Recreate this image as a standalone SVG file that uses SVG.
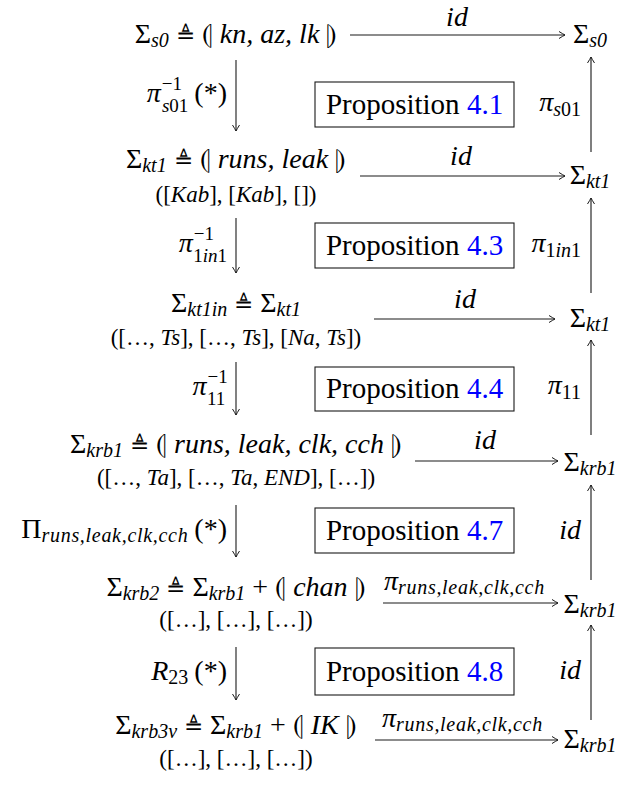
<svg xmlns="http://www.w3.org/2000/svg" width="618" height="785" viewBox="0 0 618 785">
<style>
.f{font-family:"Liberation Serif","DejaVu Serif",serif;fill:#000}
.m{font-size:28px}
.i{font-style:italic}
.sb{font-size:20px}
.ss{font-size:19px}
.ls{letter-spacing:0.7px}
.tri{font-size:23px}
.tp{font-size:23px}
.pr{font-size:29px}
.bl{fill:#0000ff}
.c{text-anchor:middle}
.e{text-anchor:end}
.ln{stroke:#1a1a1a;stroke-width:1.1;fill:none}
.up{stroke:#555;stroke-width:1.5;fill:none}
.bx{fill:#fff;stroke:#1a1a1a;stroke-width:1.1}
</style>
<defs>
<marker id="ah" viewBox="-8 -5 10 10" refX="0" refY="0" markerWidth="10" markerHeight="10" orient="auto" markerUnits="userSpaceOnUse">
<path d="M-6,-3.5 Q-2,-1 0,0 Q-2,1 -6,3.5" fill="none" stroke="#1a1a1a" stroke-width="1"/>
</marker>
</defs>

<g id="connectors">
<line class="ln" x1="350" y1="35" x2="565" y2="35" marker-end="url(#ah)"/>
<line class="ln" x1="360" y1="176" x2="565" y2="176" marker-end="url(#ah)"/>
<line class="ln" x1="374" y1="319" x2="555" y2="319" marker-end="url(#ah)"/>
<line class="ln" x1="415" y1="461" x2="558" y2="461" marker-end="url(#ah)"/>
<line class="ln" x1="383" y1="603" x2="558" y2="603" marker-end="url(#ah)"/>
<line class="ln" x1="375" y1="740" x2="558" y2="740" marker-end="url(#ah)"/>
<line class="ln" x1="236" y1="60" x2="236" y2="131" marker-end="url(#ah)"/>
<line class="ln" x1="236" y1="218" x2="236" y2="273" marker-end="url(#ah)"/>
<line class="ln" x1="236" y1="362" x2="236" y2="415" marker-end="url(#ah)"/>
<line class="ln" x1="236" y1="505" x2="236" y2="557" marker-end="url(#ah)"/>
<line class="ln" x1="236" y1="647" x2="236" y2="700" marker-end="url(#ah)"/>
<line class="up" x1="591" y1="152" x2="591" y2="57" marker-end="url(#ah)"/>
<line class="up" x1="591" y1="293" x2="591" y2="198" marker-end="url(#ah)"/>
<line class="up" x1="591" y1="435" x2="591" y2="340" marker-end="url(#ah)"/>
<line class="up" x1="591" y1="580" x2="591" y2="485" marker-end="url(#ah)"/>
<line class="up" x1="591" y1="720" x2="591" y2="625" marker-end="url(#ah)"/>
<text class="f m i c" x="457" y="26">id</text>
<text class="f m i c" x="461" y="165">id</text>
<text class="f m i c" x="465" y="308">id</text>
<text class="f m i c" x="485" y="449">id</text>
<text class="f m i" x="384" y="590">π<tspan class="sb ls" dy="4">runs,leak,clk,cch</tspan></text>
<text class="f m i" x="382" y="727">π<tspan class="sb ls" dy="4">runs,leak,clk,cch</tspan></text>
<text class="f m e" x="227" y="102"><tspan class="i">π</tspan><tspan class="ss" dx="1" dy="-12">−1</tspan><tspan class="ss" dx="-20" dy="22"><tspan class="i">s</tspan>01</tspan><tspan dx="6" dy="-10">(*)</tspan></text>
<text class="f m e" x="227" y="252"><tspan class="i">π</tspan><tspan class="ss" dx="1" dy="-12">−1</tspan><tspan class="ss" dx="-20" dy="22">1<tspan class="i">in</tspan>1</tspan></text>
<text class="f m e" x="227" y="395"><tspan class="i">π</tspan><tspan class="ss" dx="1" dy="-12">−1</tspan><tspan class="ss" dx="-20" dy="22">11</tspan></text>
<text class="f m e" x="227" y="538">Π<tspan class="sb i ls" dy="4">runs,leak,clk,cch</tspan><tspan dx="6" dy="-4">(*)</tspan></text>
<text class="f m e" x="227" y="680"><tspan class="i">R</tspan><tspan class="sb" dy="4">23</tspan><tspan dx="6" dy="-4">(*)</tspan></text>
<text class="f m e" x="581" y="111"><tspan class="i">π</tspan><tspan class="sb" dy="5"><tspan class="i">s</tspan>01</tspan></text>
<text class="f m e" x="581" y="252"><tspan class="i">π</tspan><tspan class="sb" dy="5">1<tspan class="i">in</tspan>1</tspan></text>
<text class="f m e" x="581" y="394"><tspan class="i">π</tspan><tspan class="sb" dy="5">11</tspan></text>
<text class="f m i e" x="581" y="539">id</text>
<text class="f m i e" x="581" y="679">id</text>
</g>

<g id="n1">
<text class="f m c" x="236" y="43">Σ<tspan class="i sb" dy="4">s0</tspan><tspan dy="-4"> </tspan><tspan class="tri">≜</tspan> ⦇ <tspan class="i">kn, az, lk</tspan> ⦈</text>
</g>
<g id="n1r">
<text class="f m c" x="590" y="43">Σ<tspan class="i sb" dy="4">s0</tspan></text>
</g>
<g id="n2">
<text class="f m c" x="236" y="168">Σ<tspan class="i sb" dy="4">kt1</tspan><tspan dy="-4"> </tspan><tspan class="tri">≜</tspan> ⦇ <tspan class="i">runs, leak</tspan> ⦈</text>
<text class="f tp c" x="236" y="202">([<tspan class="i">Kab</tspan>], [<tspan class="i">Kab</tspan>], [])</text>
</g>
<g id="n2r">
<text class="f m c" x="590" y="184">Σ<tspan class="i sb" dy="4">kt1</tspan></text>
</g>
<g id="n3">
<text class="f m c" x="236" y="312">Σ<tspan class="i sb" dy="4">kt1in</tspan><tspan dy="-4"> </tspan><tspan class="tri">≜</tspan> Σ<tspan class="i sb" dy="4">kt1</tspan></text>
<text class="f tp c" x="236" y="345">([…, <tspan class="i">Ts</tspan>], […, <tspan class="i">Ts</tspan>], [<tspan class="i">Na</tspan>, <tspan class="i">Ts</tspan>])</text>
</g>
<g id="n3r">
<text class="f m c" x="590" y="327">Σ<tspan class="i sb" dy="4">kt1</tspan></text>
</g>
<g id="n4">
<text class="f m c" x="236" y="453">Σ<tspan class="i sb" dy="4">krb1</tspan><tspan dy="-4"> </tspan><tspan class="tri">≜</tspan> ⦇ <tspan class="i">runs, leak, clk, cch</tspan> ⦈</text>
<text class="f tp c" x="236" y="485">([…, <tspan class="i">Ta</tspan>], […, <tspan class="i">Ta</tspan>, <tspan class="i">END</tspan>], […])</text>
</g>
<g id="n4r">
<text class="f m c" x="590" y="471">Σ<tspan class="i sb" dy="4">krb1</tspan></text>
</g>
<g id="n5">
<text class="f m c" x="236" y="596">Σ<tspan class="i sb" dy="4">krb2</tspan><tspan dy="-4"> </tspan><tspan class="tri">≜</tspan> Σ<tspan class="i sb" dy="4">krb1</tspan><tspan dy="-4"> + ⦇ </tspan><tspan class="i">chan</tspan> ⦈</text>
<text class="f tp c" x="236" y="627">([…], […], […])</text>
</g>
<g id="n5r">
<text class="f m c" x="590" y="613">Σ<tspan class="i sb" dy="4">krb1</tspan></text>
</g>
<g id="n6">
<text class="f m c" x="236" y="734">Σ<tspan class="i sb" dy="4">krb3v</tspan><tspan dy="-4"> </tspan><tspan class="tri">≜</tspan> Σ<tspan class="i sb" dy="4">krb1</tspan><tspan dy="-4"> + ⦇ </tspan><tspan class="i">IK</tspan> ⦈</text>
<text class="f tp c" x="236" y="766">([…], […], […])</text>
</g>
<g id="n6r">
<text class="f m c" x="590" y="748">Σ<tspan class="i sb" dy="4">krb1</tspan></text>
</g>

<g id="p41">
<rect class="bx" x="315" y="82" width="199" height="45"/>
<text class="f pr c" x="414.5" y="114">Proposition <tspan class="bl">4.1</tspan></text>
</g>
<g id="p43">
<rect class="bx" x="315" y="223" width="199" height="45"/>
<text class="f pr c" x="414.5" y="255">Proposition <tspan class="bl">4.3</tspan></text>
</g>
<g id="p44">
<rect class="bx" x="315" y="367" width="199" height="44"/>
<text class="f pr c" x="414.5" y="398">Proposition <tspan class="bl">4.4</tspan></text>
</g>
<g id="p47">
<rect class="bx" x="315" y="508" width="199" height="45"/>
<text class="f pr c" x="414.5" y="540">Proposition <tspan class="bl">4.7</tspan></text>
</g>
<g id="p48">
<rect class="bx" x="315" y="648" width="199" height="47"/>
<text class="f pr c" x="414.5" y="681">Proposition <tspan class="bl">4.8</tspan></text>
</g>
</svg>
